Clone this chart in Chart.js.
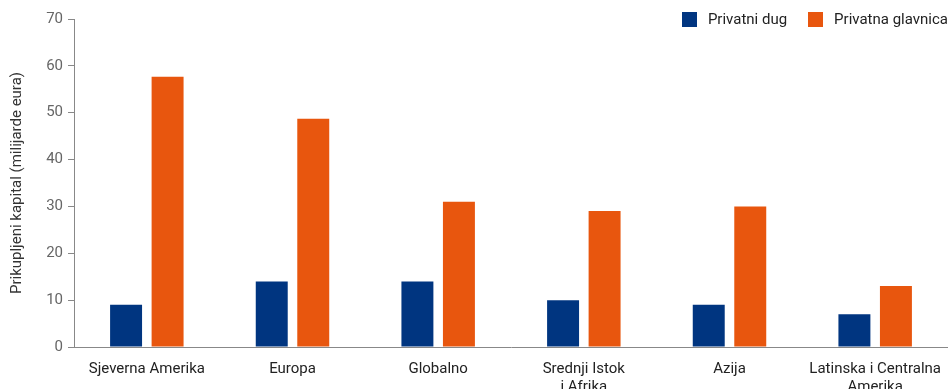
<!DOCTYPE html>
<html>
<head>
<meta charset="utf-8">
<script src="https://cdn.jsdelivr.net/npm/chart.js"></script>
<style>
  html, body { margin: 0; padding: 0; background: #fff; overflow: hidden; }
  #wrap { position: relative; width: 948px; height: 389px; }
  #legend { position: absolute; top: 10px; right: 0; font: 15px Roboto, sans-serif; color: #222; display: flex; }
  #legend span.item { display: flex; align-items: center; margin-left: 21px; }
  #legend span.box { width: 15px; height: 15px; margin-right: 11px; display: inline-block; }
</style>
</head>
<body>
<div id="wrap">
  <canvas id="chart" width="948" height="389"></canvas>
  <div id="legend"></div>
</div>
<script>
  const categories = [
    'Sjeverna Amerika',
    'Europa',
    'Globalno',
    ['Srednji Istok', 'i Afrika'],
    'Azija',
    ['Latinska i Centralna', 'Amerika']
  ];
  const privatniDug = [9, 14, 14, 10, 9, 7];
  const privatnaGlavnica = [57.7, 48.7, 31, 29, 30, 13];
  const seriesNames = ['Privatni dug', 'Privatna glavnica'];
  const seriesColors = ['#003580', '#e8560e'];

  const legend = document.getElementById('legend');
  seriesNames.forEach((name, i) => {
    legend.innerHTML += `<span class="item"><span class="box" style="background:${seriesColors[i]}"></span>${name}</span>`;
  });

  const ctx = document.getElementById('chart').getContext('2d');
  new Chart(ctx, {
    type: 'bar',
    data: {
      labels: categories,
      datasets: [
        { label: seriesNames[0], data: privatniDug, backgroundColor: seriesColors[0] },
        { label: seriesNames[1], data: privatnaGlavnica, backgroundColor: seriesColors[1] }
      ]
    },
    options: {
      responsive: false,
      animation: false,
      categoryPercentage: 0.57,
      barPercentage: 0.77,
      layout: { padding: { top: 19, right: 0, left: 4, bottom: 0 } },
      plugins: { legend: { display: false }, tooltip: { enabled: false } },
      scales: {
        x: {
          grid: { display: false },
          border: { display: true, color: '#888', width: 1 },
          ticks: { color: '#222', font: { family: 'Roboto', size: 15 }, padding: 5, maxRotation: 0, autoSkip: false },
          afterFit: s => { s.height = 42; }
        },
        y: {
          min: 0, max: 70,
          ticks: { stepSize: 10, color: '#666', font: { family: 'Roboto', size: 15 }, padding: 5 },
          grid: { drawOnChartArea: false, drawTicks: true, tickLength: 6, color: '#888' },
          border: { display: true, color: '#888', width: 1 },
          title: { display: true, text: 'Prikupljeni kapital (milijarde eura)', color: '#333', font: { family: 'Roboto', size: 15 }, padding: 4 },
          afterFit: s => { s.width = 70; }
        }
      }
    }
  });
</script>
</body>
</html>
